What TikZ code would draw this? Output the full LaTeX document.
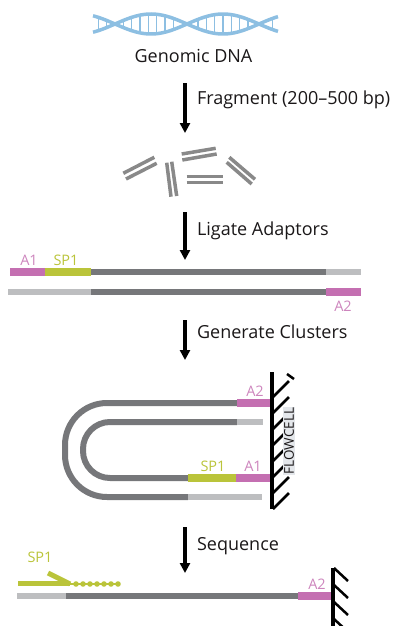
\documentclass[tikz,border=0pt]{standalone}
\usepackage{fontspec}
\setmainfont{Open Sans}
\usetikzlibrary{arrows.meta}
\definecolor{helixblue}{HTML}{8DBFE2}
\definecolor{adaptorpink}{HTML}{C46FB1}
\definecolor{primerlime}{HTML}{BAC43A}
\definecolor{insertgray}{HTML}{76777A}
\definecolor{tailgray}{HTML}{BDBEC0}
\definecolor{fraggray}{HTML}{898989}
\definecolor{inkblack}{HTML}{1A1718}
\definecolor{cellbox}{HTML}{E4E7EB}
\tikzstyle{steparrow} = [draw=black, line width=3.5pt,
    -{Triangle[length=10pt,width=10pt]}]
\tikzstyle{steplabel} = [anchor=west, xshift=7pt, text=inkblack,
    text height=0.75em, text depth=0.25em, font=\fontsize{18}{21}\selectfont]
\tikzstyle{tag} = [inner sep=0pt, font=\fontsize{14.5}{16}\selectfont]
\tikzstyle{adaptor} = [line width=8pt, draw=adaptorpink]
\tikzstyle{spacer} = [line width=8pt, draw=primerlime]
\tikzstyle{insert} = [line width=6pt, draw=insertgray]
\tikzstyle{tail} = [line width=6pt, draw=tailgray]
\tikzstyle{fragment} = [line width=3.5pt, draw=fraggray]
\tikzstyle{wall} = [line width=4pt, draw=black]
\tikzstyle{hatch} = [line width=2.5pt, draw=black]

\begin{document}
\begin{tikzpicture}[x=1pt,y=-1pt]
\useasboundingbox (0,0) rectangle (396,626);

% double helix
\def\hmid{24}
\def\hamp{10}
\foreach \x in {98.5,106.8,...,275} {
  \pgfmathsetmacro\dy{abs(\hamp*sin(2.5*(\x-115)))}
  \pgfmathtruncatemacro\keep{\dy>3.5}
  \ifnum\keep=1
    \draw[helixblue, line width=1.3pt] (\x,{\hmid-\dy+1.5}) -- (\x,{\hmid+\dy-1.5});
  \fi
}
\draw[helixblue, line width=3.5pt, domain=93:278, samples=90, smooth, variable=\x] plot ({\x},{\hmid-\hamp*sin(2.5*(\x-115))});
\draw[helixblue, line width=3.5pt, domain=93:278, samples=90, smooth, variable=\x] plot ({\x},{\hmid+\hamp*sin(2.5*(\x-115))});
\node[text=inkblack, font=\fontsize{18}{21}\selectfont] (dna) at (193.5,56.3) {Genomic DNA};

% step arrows
\coordinate (dnaout) at (185,83);
\coordinate (fragin) at (185,133);
\coordinate (fragout) at (185,212);
\coordinate (ligin) at (185,260);
\coordinate (ligout) at (185,320);
\coordinate (clusin) at (185,360);
\coordinate (clusout) at (185,527);
\coordinate (seqin) at (185,573);
\draw[steparrow] (dnaout) -- (fragin) node[steplabel, pos=0.37] (fraglbl) {Fragment (200--500 bp)};
\draw[steparrow] (fragout) -- (ligin) node[steplabel, pos=0.44] (liglbl) {Ligate Adaptors};
\draw[steparrow] (ligout) -- (clusin) node[steplabel, pos=0.41] (cluslbl) {Generate Clusters};
\draw[steparrow] (clusout) -- (seqin) node[steplabel, pos=0.45] (seqlbl) {Sequence};

% fragments
\draw[fragment] (123.3,173.3) -- (154.3,157.3);
\draw[fragment] (126,179) -- (156.7,163.3);
\draw[fragment] (166.7,162.7) -- (171,196.7);
\draw[fragment] (171.7,161.7) -- (176.7,196);
\draw[fragment] (181.7,154) -- (215.7,148.3);
\draw[fragment] (182.3,160) -- (216.7,154);
\draw[fragment] (186.7,176.7) -- (222.7,176.7);
\draw[fragment] (186.7,182.7) -- (222.7,182.7);
\draw[fragment] (229.3,157.3) -- (255,179.3);
\draw[fragment] (226.7,162.3) -- (251.7,184);

% ligated fragment
\def\ligtop{272}
\def\ligbot{292}
\draw[adaptor] (10,\ligtop) -- (45,\ligtop);
\draw[spacer] (45,\ligtop) -- (91,\ligtop);
\draw[insert] (91,\ligtop) -- (326,\ligtop);
\draw[tail] (326,\ligtop) -- (361,\ligtop);
\draw[tail] (8,\ligbot) -- (91,\ligbot);
\draw[insert] (91,\ligbot) -- (326,\ligbot);
\draw[adaptor] (326,\ligbot) -- (361,\ligbot);
\node[tag, text=adaptorpink!85!white] (ligA1) at (29,260) {A1};
\node[tag, text=primerlime] (ligSP1) at (66,260) {SP1};
\node[tag, text=adaptorpink!85!white] (ligA2) at (343,306) {A2};

% bridged strands on the flowcell
\draw[insert, rounded corners=42pt] (237,403) -- (65,403) -- (65,497) -- (188,497);
\draw[insert, rounded corners=27pt] (237,422) -- (83,422) -- (83,478) -- (188,478);
\draw[adaptor] (237,403) -- (270,403);
\draw[tail] (237,422) -- (263,422);
\draw[spacer] (188,478) -- (236,478);
\draw[adaptor] (236,478) -- (270,478);
\draw[tail] (188,497) -- (262,497);
\node[tag, text=adaptorpink!85!white] (clusA2) at (255,391) {A2};
\node[tag, text=primerlime] (clusSP1) at (213,466) {SP1};
\node[tag, text=adaptorpink!85!white] (clusA1) at (253,466) {A1};

\foreach \y in {397,413,...,509}
  \draw[hatch] (273,\y) -- (289,{\y-16});
\draw[hatch] (287,374) -- (294,379);
\draw[wall] (272,372) -- (272,509);
\node[fill=cellbox, rotate=90, inner sep=1pt, text=inkblack,
    font=\fontsize{13.5}{15}\selectfont] (cell) at (289,441) {FLOWCELL};

% sequencing by synthesis
\def\seqy{596}
\draw[tail] (17,\seqy) -- (66,\seqy);
\draw[insert] (66,\seqy) -- (298,\seqy);
\draw[adaptor] (298,\seqy) -- (332,\seqy);
\draw[primerlime, line width=5pt] (18,583.5) -- (70,583.5);
\draw[primerlime, line width=5pt] (48,573) -- (70,584);
\draw[primerlime, line width=1.5pt] (70,584) -- (119,584);
\foreach \x in {76,83,...,119}
  \fill[primerlime] (\x,584) circle (2.8pt);
\node[tag, text=primerlime] (seqSP1) at (40,557) {SP1};
\node[tag, text=adaptorpink!85!white] (seqA2) at (317,584) {A2};

\foreach \y in {568,585,...,620}
  \draw[hatch] (334,\y) -- (348,{\y+13});
\draw[wall] (332.5,568) -- (332.5,626);

\end{tikzpicture}
\end{document}
